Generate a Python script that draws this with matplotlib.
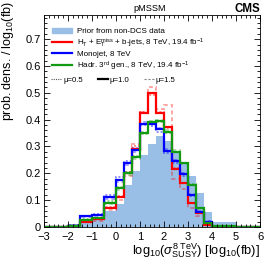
import matplotlib
matplotlib.use('Agg')
import matplotlib.pyplot as plt
from matplotlib import ticker
from matplotlib.lines import Line2D
from matplotlib.patches import Patch
import numpy as np

plt.rcParams.update({'font.family': 'Liberation Sans', 'mathtext.fontset': 'custom',
                     'mathtext.rm': 'Liberation Sans', 'mathtext.it': 'Liberation Sans:italic',
                     'mathtext.bf': 'Liberation Sans:bold'})

# bin edges in log10(sigma / fb)
edges = [-3, -2, -1.5, -1, -0.5, 0, 0.333, 0.667, 1, 1.333, 1.667, 2, 2.333, 2.667, 3, 3.333, 3.667, 4, 5, 6]

prior = [0, 0.01, 0.02, 0.025, 0.06, 0.085, 0.155, 0.21, 0.27, 0.31, 0.34, 0.32, 0.28, 0.24, 0.19, 0.125, 0.057, 0.02, 0]

red_10 = [0, 0.005, 0.02, 0.028, 0.072, 0.11, 0.2, 0.29, 0.425, 0.5, 0.425, 0.372, 0.215, 0.163, 0.088, 0.051, 0.007, 0, 0]
red_05 = [0, 0.005, 0.022, 0.03, 0.075, 0.115, 0.205, 0.3, 0.43, 0.49, 0.43, 0.37, 0.22, 0.165, 0.09, 0.052, 0.008, 0, 0]
red_15 = [0, 0.004, 0.017, 0.024, 0.062, 0.1, 0.19, 0.31, 0.43, 0.52, 0.44, 0.455, 0.18, 0.14, 0.07, 0.04, 0.006, 0, 0]

blue_10 = [0, 0.005, 0.04, 0.045, 0.11, 0.175, 0.237, 0.285, 0.384, 0.384, 0.365, 0.282, 0.244, 0.197, 0.119, 0.057, 0.02, 0, 0]
blue_05 = [0, 0.006, 0.042, 0.048, 0.12, 0.185, 0.245, 0.295, 0.38, 0.375, 0.355, 0.275, 0.24, 0.19, 0.115, 0.055, 0.019, 0, 0]
blue_15 = [0, 0.004, 0.037, 0.042, 0.105, 0.168, 0.23, 0.28, 0.39, 0.39, 0.37, 0.29, 0.25, 0.2, 0.122, 0.06, 0.021, 0, 0]

green_10 = [0, 0.005, 0.026, 0.033, 0.091, 0.144, 0.2, 0.26, 0.351, 0.39, 0.394, 0.355, 0.281, 0.238, 0.157, 0.07, 0.014, 0.002, 0]
green_05 = [0, 0.005, 0.028, 0.035, 0.095, 0.15, 0.205, 0.265, 0.345, 0.385, 0.39, 0.35, 0.28, 0.24, 0.16, 0.072, 0.015, 0.002, 0]
green_15 = [0, 0.005, 0.024, 0.031, 0.085, 0.138, 0.195, 0.255, 0.355, 0.395, 0.4, 0.36, 0.285, 0.235, 0.155, 0.068, 0.013, 0.002, 0]

c_red, c_blue, c_green, c_prior = '#ff0000', '#0000ff', '#129a12', '#99bfe6'

fig = plt.figure(figsize=(2.74, 2.63), dpi=100)
ax = fig.add_axes([0.1606, 0.137, 0.7884, 0.806])

ax.stairs(prior, edges, fill=True, color=c_prior, lw=0)

for vals, col in [(red_05, c_red), (blue_05, c_blue), (green_05, c_green)]:
    ax.stairs(vals, edges, color=col, lw=1.4, ls=(0, (1, 1)), alpha=0.45)
for vals, col in [(red_15, c_red), (blue_15, c_blue), (green_15, c_green)]:
    ax.stairs(vals, edges, color=col, lw=1.4, ls=(0, (2, 1.5)), alpha=0.35)
for vals, col in [(red_10, c_red), (blue_10, c_blue), (green_10, c_green)]:
    ax.stairs(vals, edges, color=col, lw=1.6)

ax.set_xlim(-3, 6)
ax.set_ylim(0, 0.79)
ax.xaxis.set_major_locator(ticker.MultipleLocator(1))
ax.xaxis.set_minor_locator(ticker.MultipleLocator(0.2))
ax.yaxis.set_major_locator(ticker.MultipleLocator(0.1))
ax.yaxis.set_minor_locator(ticker.MultipleLocator(0.02))
ax.yaxis.set_major_formatter(ticker.FuncFormatter(lambda v, p: '0' if abs(v) < 1e-9 else '%.1f' % v))
ax.tick_params(which='both', direction='in', top=True, right=True, labelsize=8, width=0.6)
ax.tick_params(axis='x', pad=3.5)
ax.tick_params(axis='y', pad=2)
ax.tick_params(which='major', length=4)
ax.tick_params(which='minor', length=2)
for s in ax.spines.values():
    s.set_linewidth(0.6)

ax.set_xlabel(r'log$_{10}$($\sigma^{8\ \mathrm{TeV}}_{\mathrm{SUSY}}$) [log$_{10}$(fb)]', fontsize=9.3, loc='right')
ax.xaxis.set_label_coords(1.0, -0.068)
fig.text(0.03, 0.995, r'prob. dens. / log$_{10}$(fb)', rotation=90, ha='center', va='top', fontsize=9)

fig.text(0.548, 0.966, 'pMSSM', ha='center', va='center', fontsize=6.6)
fig.text(0.949, 0.966, 'CMS', ha='right', va='center', fontsize=8.3, fontweight='bold')

handles = [Patch(color=c_prior),
           Line2D([], [], color=c_red, lw=1.6),
           Line2D([], [], color=c_blue, lw=1.6),
           Line2D([], [], color=c_green, lw=1.6)]
labels = ['Prior from non-DCS data',
          r'H$_\mathrm{T}$ + E$_\mathrm{T}^\mathrm{miss}$ + b-jets, 8 TeV, 19.4 fb$^{-1}$',
          'Monojet, 8 TeV',
          r'Hadr. 3$^\mathrm{rd}$ gen., 8 TeV, 19.4 fb$^{-1}$']
leg1 = ax.legend(handles, labels, loc='upper left', bbox_to_anchor=(0.02, 0.955), frameon=False,
                 fontsize=5.8, handlelength=2.6, handletextpad=0.55, labelspacing=0.12, borderaxespad=0)
ax.add_artist(leg1)

mu_handles = [Line2D([], [], color='#555555', lw=0.8, ls=(0, (1, 1))),
              Line2D([], [], color='black', lw=1.6),
              Line2D([], [], color='#888888', lw=0.8, ls=(0, (2, 1.5)))]
mu_labels = ['μ=0.5', 'μ=1.0', 'μ=1.5']
ax.legend(mu_handles, mu_labels, loc='upper left', bbox_to_anchor=(0.02, 0.725), frameon=False, ncol=3,
          fontsize=5.6, handlelength=1.3, handletextpad=0.2, columnspacing=1.9, borderaxespad=0)

fig.savefig('out.png', dpi=100)
